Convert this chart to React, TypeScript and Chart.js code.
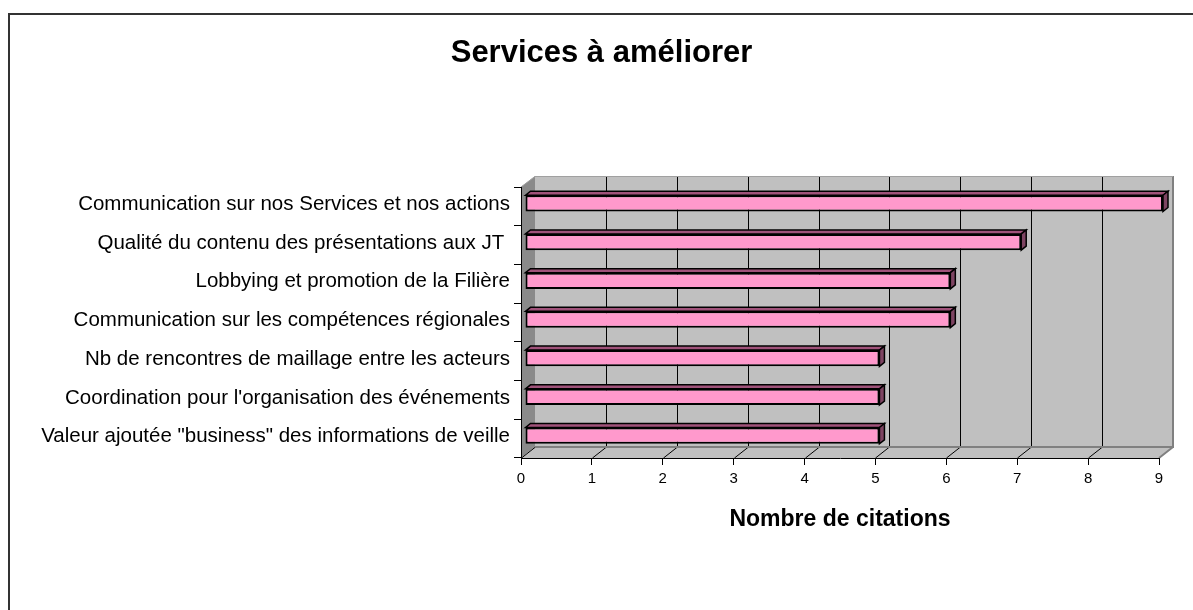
import React, { useEffect, useRef } from 'react';
import { Chart, registerables } from 'chart.js';

Chart.register(...registerables);

const categories: string[] = [
  'Communication sur nos Services et nos actions',
  'Qualité du contenu des présentations aux JT ',
  'Lobbying et promotion de la Filière',
  'Communication sur les compétences régionales',
  'Nb de rencontres de maillage entre les acteurs',
  "Coordination pour l'organisation des événements",
  'Valeur ajoutée "business" des informations de veille',
];
const citations: number[] = [9, 7, 6, 6, 5, 5, 5];
const axisMin = 0;
const axisMax = 9;
const axisStep = 1;
const chartTitle = 'Services à améliorer';
const xAxisTitle = 'Nombre de citations';

const FONT = "'Liberation Sans', Arial, sans-serif";
const DX = 14;
const DY = -11;
const BAR_SHIFT_X = 4;
const BAR_SHIFT_Y = -3;
const BAR_DX = 5;
const BAR_DY = -4;

const poly = (ctx: CanvasRenderingContext2D, pts: number[][]) => {
  ctx.beginPath();
  ctx.moveTo(pts[0][0], pts[0][1]);
  for (let i = 1; i < pts.length; i++) ctx.lineTo(pts[i][0], pts[i][1]);
  ctx.closePath();
};

const excel3d = {
  id: 'excel3d',
  beforeDraw(chart: any) {
    const { ctx, chartArea: a, scales } = chart;
    const xs = scales.x;
    ctx.save();
    // outer frame
    ctx.strokeStyle = '#333333';
    ctx.lineWidth = 2;
    ctx.beginPath();
    ctx.moveTo(9, 700);
    ctx.lineTo(9, 14);
    ctx.lineTo(1300, 14);
    ctx.stroke();

    const bl = a.left + DX;
    const br = a.right + DX;
    const bt = a.top + DY;
    const bb = a.bottom + DY;
    // back wall
    ctx.fillStyle = '#c0c0c0';
    ctx.fillRect(bl, bt, br - bl, bb - bt);
    // left wall
    ctx.fillStyle = '#8a8a8a';
    poly(ctx, [[a.left, a.top], [bl, bt], [bl, bb], [a.left, a.bottom]]);
    ctx.fill();
    // floor
    ctx.fillStyle = '#c0c0c0';
    poly(ctx, [[a.left, a.bottom], [bl, bb], [br, bb], [a.right, a.bottom]]);
    ctx.fill();

    // grid lines on back wall and floor
    ctx.strokeStyle = '#000000';
    ctx.lineWidth = 1;
    for (let v = axisMin + axisStep; v < axisMax; v += axisStep) {
      const px = Math.round(xs.getPixelForValue(v)) + 0.5;
      ctx.beginPath();
      ctx.moveTo(px + DX, bt);
      ctx.lineTo(px + DX, bb);
      ctx.moveTo(px, a.bottom);
      ctx.lineTo(px + DX, bb);
      ctx.stroke();
    }
    ctx.beginPath();
    ctx.moveTo(a.left + 0.5, a.bottom);
    ctx.lineTo(bl + 0.5, bb);
    ctx.stroke();

    // wall edges
    ctx.strokeStyle = '#808080';
    ctx.lineWidth = 2;
    ctx.beginPath();
    ctx.moveTo(bl, bb);
    ctx.lineTo(br, bb);
    ctx.lineTo(br, bt);
    ctx.moveTo(br, bb);
    ctx.lineTo(a.right, a.bottom);
    ctx.stroke();
    ctx.strokeStyle = '#a0a0a0';
    ctx.lineWidth = 1;
    ctx.beginPath();
    ctx.moveTo(a.left, a.top);
    ctx.lineTo(bl, bt + 0.5);
    ctx.lineTo(br, bt + 0.5);
    ctx.stroke();
    ctx.restore();
  },
  beforeDatasetsDraw(chart: any) {
    chart.ctx.save();
    chart.ctx.translate(BAR_SHIFT_X, BAR_SHIFT_Y);
  },
  afterDatasetsDraw(chart: any) {
    const ctx: CanvasRenderingContext2D = chart.ctx;
    const meta = chart.getDatasetMeta(0);
    ctx.lineWidth = 1.5;
    ctx.strokeStyle = '#000000';
    ctx.lineJoin = 'miter';
    meta.data.forEach((bar: any) => {
      const { x, y, base, height } = bar.getProps(['x', 'y', 'base', 'height'], true);
      const top = y - height / 2;
      const bottom = y + height / 2;
      ctx.fillStyle = '#a0527a';
      poly(ctx, [[base, top], [base + BAR_DX, top + BAR_DY], [x + BAR_DX, top + BAR_DY], [x, top]]);
      ctx.fill();
      ctx.stroke();
      ctx.fillStyle = '#7e4462';
      poly(ctx, [[x, top], [x + BAR_DX, top + BAR_DY], [x + BAR_DX, bottom + BAR_DY], [x, bottom]]);
      ctx.fill();
      ctx.stroke();
    });
    ctx.restore();
  },
};

export default function App() {
  const canvasRef = useRef<HTMLCanvasElement | null>(null);

  useEffect(() => {
    if (!canvasRef.current) return;
    const chart = new Chart(canvasRef.current, {
      type: 'bar',
      data: {
        labels: categories,
        datasets: [
          {
            label: xAxisTitle,
            data: citations,
            backgroundColor: '#ff99cc',
            borderColor: '#000000',
            borderWidth: 2,
            borderSkipped: false,
            barPercentage: 0.42,
            categoryPercentage: 1,
          },
        ],
      },
      options: {
        indexAxis: 'y',
        animation: false,
        responsive: false,
        events: [],
        layout: { padding: { left: 10, right: 0, top: 0, bottom: 0 } },
        plugins: {
          legend: { display: false },
          tooltip: { enabled: false },
          title: {
            display: true,
            text: chartTitle,
            color: '#000000',
            font: { family: FONT, size: 31, weight: 'bold' },
            padding: { top: 35, bottom: 114.8 },
          },
        },
        scales: {
          x: {
            type: 'linear',
            min: axisMin,
            max: axisMax,
            ticks: {
              stepSize: axisStep,
              color: '#000000',
              font: { family: FONT, size: 15 },
              padding: 5,
            },
            grid: {
              drawOnChartArea: false,
              drawTicks: true,
              tickLength: 7,
              color: '#000000',
            },
            border: { display: true, color: '#000000', width: 1 },
            title: {
              display: true,
              text: xAxisTitle,
              color: '#000000',
              font: { family: FONT, size: 23, weight: 'bold' },
              padding: { top: 0, bottom: 77 },
            },
            afterFit: (s: any) => {
              s.height = 152;
            },
          },
          y: {
            type: 'category',
            ticks: {
              color: '#000000',
              font: { family: FONT, size: 20.5 },
              padding: 4,
              labelOffset: -2,
            },
            grid: {
              drawOnChartArea: false,
              drawTicks: true,
              tickLength: 7,
              color: '#000000',
            },
            border: { display: true, color: '#000000', width: 1 },
            afterFit: (s: any) => {
              s.width = 511;
            },
          },
          yRight: {
            type: 'category',
            position: 'right',
            display: true,
            grid: { display: false, drawTicks: false },
            border: { display: false },
            ticks: { display: false },
            afterFit: (s: any) => {
              s.width = 34;
            },
          },
        },
      } as any,
      plugins: [excel3d],
    });
    return () => chart.destroy();
  }, []);

  return (
    <div style={{ position: 'fixed', left: 0, top: 0, width: 1193, height: 610, background: '#ffffff' }}>
      <canvas ref={canvasRef} width={1193} height={610} style={{ width: 1193, height: 610, display: 'block' }} />
    </div>
  );
}
